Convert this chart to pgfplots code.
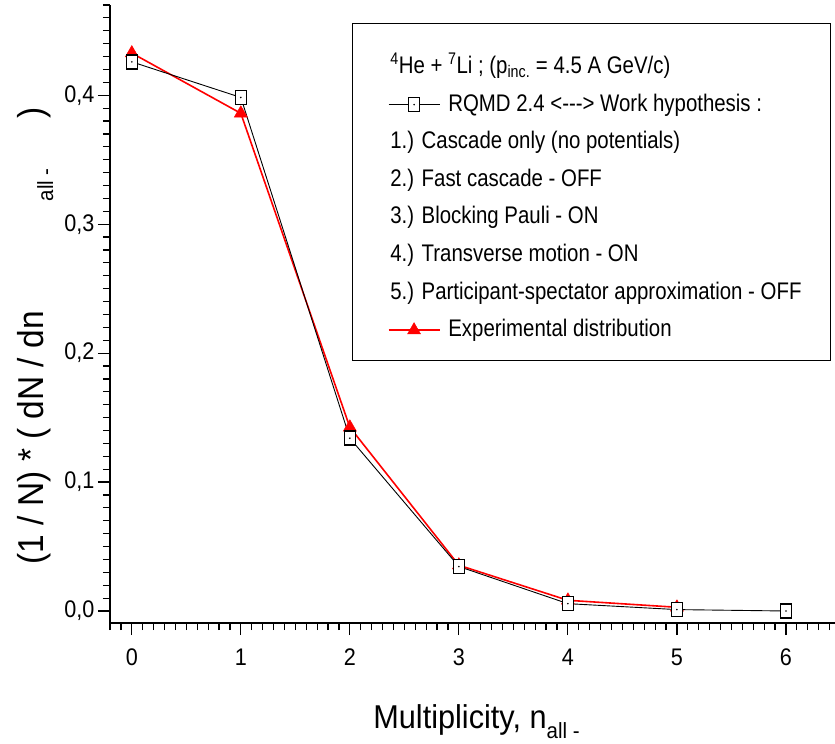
\documentclass[border=0pt]{standalone}
\usepackage{pgfplots}
\pgfplotsset{compat=1.18}
\usepackage{fontspec}
\setmainfont[FakeStretch=0.9]{Liberation Sans}
\newfontfamily\legfont[FakeStretch=0.85]{Liberation Sans}
\newfontfamily\labfont[FakeStretch=0.93]{Liberation Sans}
\newcommand\sub[1]{\raisebox{-10bp}{\fontsize{22bp}{24bp}\selectfont #1}}

\pgfdeclareplotmark{sqdot}{%
 \pgfpathrectangle{\pgfpoint{-5.5bp}{-7bp}}{\pgfpoint{11bp}{14bp}}%
 \pgfusepathqfillstroke
 \begin{pgfscope}%
 \pgfsetfillcolor{black}%
 \pgfpathcircle{\pgfpointorigin}{0.9bp}%
 \pgfusepathqfill
 \end{pgfscope}}

\begin{document}
\begin{tikzpicture}
\begin{axis}[
 scale only axis, width=725bp, height=618bp,
 xmin=-0.2, xmax=6.45, ymin=-0.0093, ymax=0.47,
 axis lines=left, axis line style={-, line width=1.4bp},
 tick align=outside, major tick length=12bp, minor tick length=7bp,
 tick style={line width=1.2bp, black},
 xtick={0,1,2,3,4,5,6}, ytick={0,0.1,0.2,0.3,0.4},
 minor xtick={-0.2,-0.1,...,6.45},
 minor ytick={0,0.01,...,0.475},
 ticklabel style={font=\fontsize{24bp}{28bp}\selectfont},
 xticklabel style={yshift=-10bp},
 yticklabel style={/pgf/number format/.cd, fixed, fixed zerofill, precision=1, use comma},
 /pgf/number format/assume math mode=true,
 xlabel={Multiplicity, n\sub{all -}},
 ylabel={(1 / N) * ( dN / dn\hspace{110bp}\sub{all -}\hspace{50bp})},
 xlabel style={at={(axis description cs:0.5055,-0.17)}, anchor=base, font=\labfont\fontsize{33bp}{38bp}\selectfont},
 ylabel style={at={(axis description cs:-0.0924,0.465)}, anchor=base, font=\labfont\fontsize{36bp}{40bp}\selectfont},
 legend style={at={(axis description cs:0.334,0.971)}, anchor=north west,
   draw=black, line width=1.2bp, fill=white,
   inner xsep=35bp, inner ysep=18bp,
   font=\legfont\fontsize{24bp}{28bp}\selectfont,
   row sep=12.6bp, column sep=8bp,
   nodes={inner sep=0pt, text height=19bp, text depth=6bp}},
 legend cell align=left,
 clip=false,
]
\addlegendimage{empty legend}
\addlegendentry[text height=32bp]{\hspace*{-58bp}\textsuperscript{4}He + \textsuperscript{7}Li ; (p\textsubscript{inc.} = 4.5 A GeV/c)}
\addlegendimage{black, line width=0.8bp, mark=sqdot, mark options={fill=white, line width=1.5bp},
  legend image code/.code={\draw[mark repeat=2,mark phase=2] plot coordinates {(0bp,0bp) (25.5bp,0bp) (51bp,0bp)};}}
\addlegendentry{RQMD 2.4 <{-}{-}{-}> Work hypothesis :}
\addlegendimage{empty legend}
\addlegendentry{\hspace*{-58bp}1.) Cascade only (no potentials)}
\addlegendimage{empty legend}
\addlegendentry{\hspace*{-58bp}2.) Fast cascade - OFF}
\addlegendimage{empty legend}
\addlegendentry{\hspace*{-58bp}3.) Blocking Pauli - ON}
\addlegendimage{empty legend}
\addlegendentry{\hspace*{-58bp}4.) Transverse motion - ON}
\addlegendimage{empty legend}
\addlegendentry{\hspace*{-58bp}5.) Participant-spectator approximation - OFF\hspace*{-6bp}}
\addlegendimage{red, line width=1.6bp, mark=triangle*, mark size=7.5bp, mark options={fill=red, line width=0.5bp},
  legend image code/.code={\draw[mark repeat=2,mark phase=2] plot coordinates {(0bp,0bp) (25.5bp,0bp) (51bp,0bp)};}}
\addlegendentry{Experimental distribution}

\addplot[red, line width=1.6bp, mark=triangle*, mark size=7.5bp, mark options={fill=red, line width=0.5bp}, forget plot]
 coordinates {(0,0.4327) (1,0.386) (2,0.1425) (3,0.0355) (4,0.0083) (5,0.0029)};
\addplot[black, line width=0.9bp, mark=sqdot, mark options={fill=white, line width=1.5bp}, forget plot]
 coordinates {(0,0.4259) (1,0.3983) (2,0.134) (3,0.0345) (4,0.0057) (5,0.0011) (6,0.0)};
\coordinate (LL) at (rel axis cs:0,0);
\coordinate (UR) at (rel axis cs:1,1);
\end{axis}
\pgfresetboundingbox
\path[use as bounding box] ([shift={(-110bp,-121bp)}]LL) rectangle ([shift={(0bp,5bp)}]UR);
\end{tikzpicture}
\end{document}
